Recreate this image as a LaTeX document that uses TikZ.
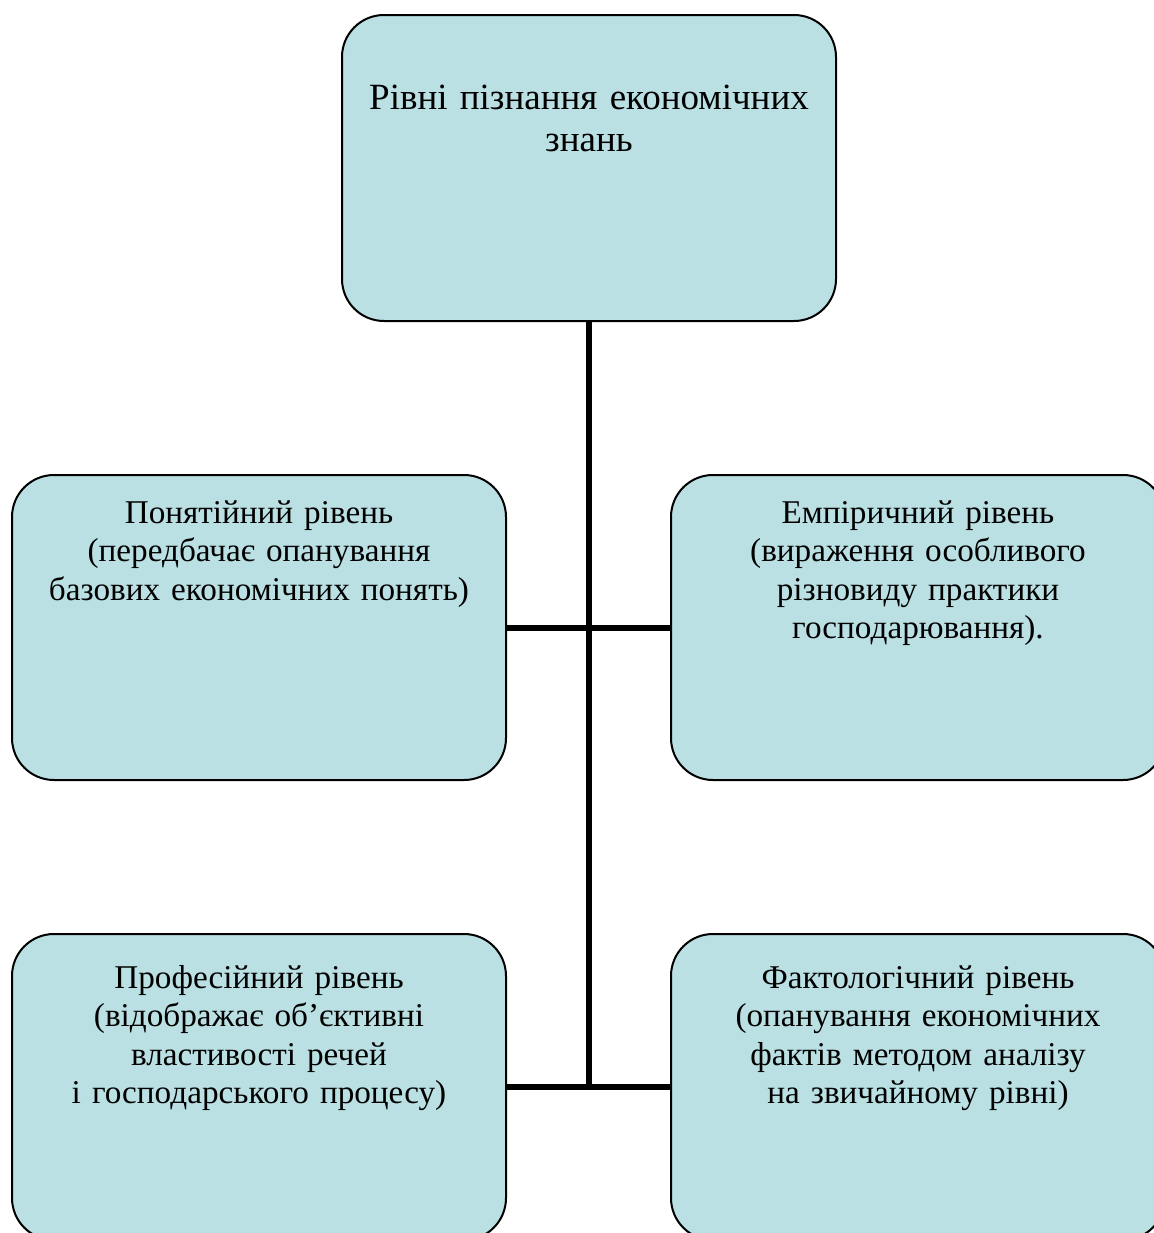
\documentclass[tikz,border=0pt]{standalone}
\usepackage{fontspec}
\setmainfont{Liberation Serif}
\usetikzlibrary{positioning}
\definecolor{levelfill}{RGB}{186,224,227}
\begin{document}
\begin{tikzpicture}[x=0.5pt, y=-0.5pt, node distance=77pt and 82.5pt,
  level node/.style={draw, line width=1pt, fill=levelfill, rounded corners=21pt,
    inner sep=0pt, outer sep=0pt, text width=247pt, align=center,
    font=\fontsize{16.6}{19.25}\selectfont, text height=24pt, text depth=128.5pt},
  low node/.style={level node, text height=27pt, text depth=126pt},
  link/.style={line width=3pt}]
\useasboundingbox (0,0) rectangle (1154,1233);
\clip (0,0) rectangle (1154,1233);
\node[level node, anchor=north west, text height=47pt, text depth=106pt,
  font=\fontsize{18.5}{21}\selectfont] (top) at (342,15) {Рівні пізнання економічних\\знань};
\node[level node, anchor=north west] (concept) at (12,475)
  {Понятійний рівень\\(передбачає опанування\\базових економічних понять)};
\node[level node, right=of concept] (empiric)
  {Емпіричний рівень\\(вираження особливого\\різновиду практики\\господарювання).};
\node[low node, below=of concept] (prof)
  {Професійний рівень\\(відображає об’єктивні\\властивості речей\\і господарського процесу)};
\node[low node, right=of prof] (fact)
  {Фактологічний рівень\\(опанування економічних\\фактів методом аналізу\\на звичайному рівні)};
\coordinate (hub) at (top.south |- prof.east);

\path[link]
(top) edge (hub)
(concept) edge (empiric)
(prof) edge (fact);
\end{tikzpicture}
\end{document}
